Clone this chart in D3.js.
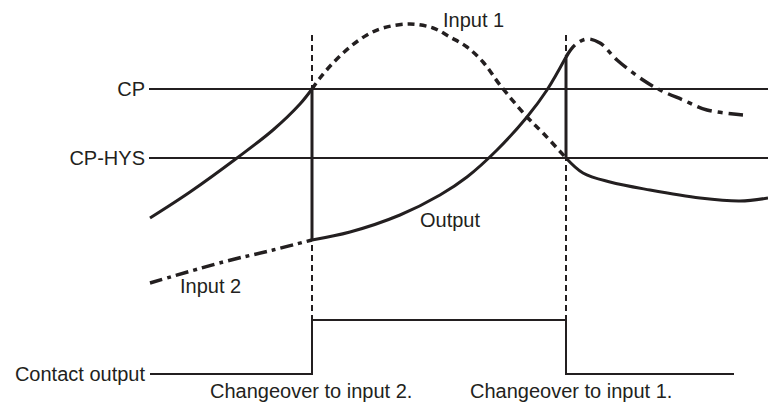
<!DOCTYPE html>
<html>
<head>
<meta charset="utf-8">
<script src="https://cdn.jsdelivr.net/npm/d3@7"></script>
<style>
  body { margin: 0; background: #fff; }
  text { font-family: "Liberation Sans", Arial, Helvetica, sans-serif; font-size: 20px; fill: #231f20; }
</style>
</head>
<body>
<div id="chart"></div>
<script>
const width = 768;
const height = 403;

// Levels
const cp = 105.5;
const cpHys = 71;
const switchTimes = [81, 208];      // changeover to input 2, changeover to input 1
const contactLow = -37;
const contactHigh = -10;
const contactEnd = 292;
const lineStart = -0.5;
const lineEnd = 309;
const guideTop = 132.5;

// Input 1 (time, value)
const input1Before = [[0, 41], [20, 54], [43.5, 71], [61.5, 85], [75, 98], [81, 105.5]];
const input1Middle = [[81, 105.5], [85, 111], [91.5, 118.5], [100, 126.5], [108.5, 132.5], [116.5, 136],
  [130, 138], [141.5, 136], [150, 131.5], [158.5, 126.5], [166.5, 119], [175, 107.5],
  [188.5, 91.5], [196.5, 83.5], [208, 71]];
const input1After = [[208, 71], [216.5, 63.5], [230, 59], [250, 55], [275, 51], [295, 49.5], [309, 51]];

// Input 2 (time, value)
const input2Before = [[0, 8.5], [36.5, 19], [61.5, 25], [81, 30]];
const input2Middle = [[81, 30], [100, 34], [125, 42.5], [145, 52.5], [158.5, 61.5], [173.5, 75],
  [188.5, 91.5], [198.5, 105], [208, 121.5]];
const input2After = [[208, 121.5], [212.5, 127.5], [218.5, 130.5], [225, 128.5], [233.5, 120],
  [246.5, 110], [255, 105], [266.5, 100], [278.5, 95], [296.5, 92.5]];

// Contact output steps
const contactSteps = [[0, contactLow], [switchTimes[0], contactLow], [switchTimes[0], contactHigh],
  [switchTimes[1], contactHigh], [switchTimes[1], contactLow], [contactEnd, contactLow]];

const levelLabels = ["CP", "CP-HYS", "Contact output"];
const changeoverLabels = ["Changeover to input 2.", "Changeover to input 1."];

/*******************************/
/*    Append the containers    */
/*******************************/
const svg = d3.select("#chart")
  .append("svg")
    .attr("width", width)
    .attr("height", height)
    .attr("viewBox", `0, 0, ${width}, ${height}`);

/****************************/
/*    Declare the scales    */
/****************************/
const xScale = d3.scaleLinear().domain([0, 309]).range([150, 768]);
const yScale = d3.scaleLinear().domain([0, 150]).range([300, 0]);

const curve = d3.line()
  .x(d => xScale(d[0]))
  .y(d => yScale(d[1]))
  .curve(d3.curveCatmullRom.alpha(0.5));

const straight = d3.line()
  .x(d => xScale(d[0]))
  .y(d => yScale(d[1]));

const ink = "#231f20";

/******************************/
/*     Threshold lines        */
/******************************/
[cp, cpHys].forEach(level => {
  svg.append("path")
    .attr("d", straight([[lineStart, level], [lineEnd, level]]))
    .attr("fill", "none")
    .attr("stroke", ink)
    .attr("stroke-width", 2);
});

// Changeover guides
switchTimes.forEach(t => {
  svg.append("path")
    .attr("d", straight([[t, guideTop], [t, contactHigh]]))
    .attr("fill", "none")
    .attr("stroke", ink)
    .attr("stroke-width", 2)
    .attr("stroke-dasharray", "6,4");
});

/******************************/
/*     Inputs and output      */
/******************************/
// Unused parts of the inputs
svg.append("path")
  .attr("d", curve(input1Middle))
  .attr("fill", "none")
  .attr("stroke", ink)
  .attr("stroke-width", 3.5)
  .attr("stroke-dasharray", "7,5");

svg.append("path")
  .attr("d", curve(input2Before))
  .attr("fill", "none")
  .attr("stroke", ink)
  .attr("stroke-width", 3.5)
  .attr("stroke-dasharray", "13,5,4,5");

svg.append("path")
  .attr("d", curve(input2After))
  .attr("fill", "none")
  .attr("stroke", ink)
  .attr("stroke-width", 3.5)
  .attr("stroke-dasharray", "15,6,5,6");

// Output
[input1Before, input2Middle, input1After].forEach(seg => {
  svg.append("path")
    .attr("d", curve(seg))
    .attr("fill", "none")
    .attr("stroke", ink)
    .attr("stroke-width", 3);
});
svg.append("path")
  .attr("d", straight([[switchTimes[0], cp], [switchTimes[0], input2Middle[0][1]]]))
  .attr("stroke", ink)
  .attr("stroke-width", 3);
svg.append("path")
  .attr("d", straight([[switchTimes[1], input2Middle[input2Middle.length - 1][1]], [switchTimes[1], cpHys]]))
  .attr("stroke", ink)
  .attr("stroke-width", 3);

// Contact output
svg.append("path")
  .attr("d", straight(contactSteps))
  .attr("fill", "none")
  .attr("stroke", ink)
  .attr("stroke-width", 2);

/******************************/
/*          Labels            */
/******************************/
[cp, cpHys, contactLow].forEach((level, i) => {
  svg.append("text")
    .text(levelLabels[i])
    .attr("text-anchor", "end")
    .attr("x", xScale(lineStart) - 4)
    .attr("y", yScale(level) + 7);
});

svg.append("text").text("Input 1").attr("x", 443).attr("y", 27);
svg.append("text").text("Output").attr("x", 420).attr("y", 227);
svg.append("text").text("Input 2").attr("x", 180).attr("y", 293);

changeoverLabels.forEach((label, i) => {
  svg.append("text")
    .text(label)
    .attr("x", [210, 470][i])
    .attr("y", 398);
});
</script>
</body>
</html>
